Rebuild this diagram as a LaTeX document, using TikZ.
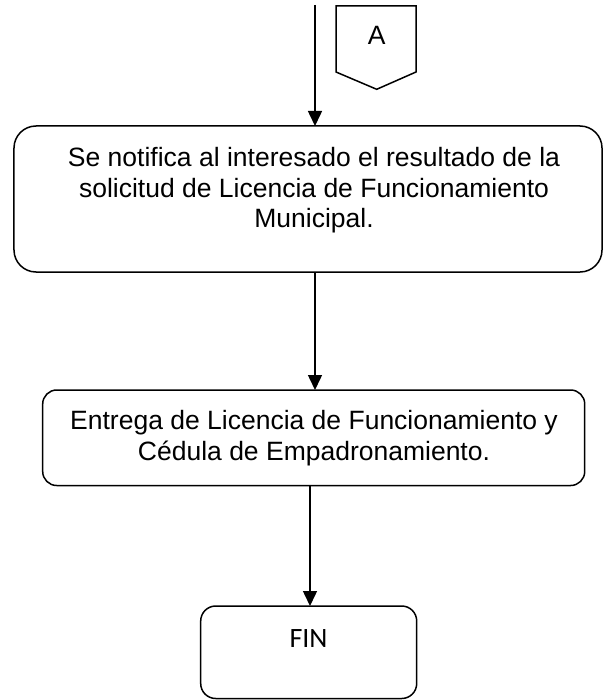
\documentclass[tikz,border=0pt]{standalone}
\usepackage{fontspec}
\setmainfont{Liberation Sans}
\newfontfamily\carlito{Carlito}
\usetikzlibrary{arrows.meta}
\begin{document}
\begin{tikzpicture}[x=1bp,y=-1bp,
  every node/.style={inner sep=0pt,outer sep=0pt},
  boxst/.style={draw,line width=1.5bp,fill=none},
  txt/.style={align=center,anchor=base},
  arr/.style={line width=1.5bp,-{Triangle[length=15bp,width=14bp]}}]
\useasboundingbox (0,0) rectangle (603,700);
% boxes
\node[boxst,rounded corners=22bp,minimum width=588bp,minimum height=146bp] (box1) at (308,199) {};
\node[boxst,rounded corners=14bp,minimum width=542bp,minimum height=95.5bp] (box2) at (313.7,437.75) {};
\node[boxst,rounded corners=15bp,minimum width=216bp,minimum height=92.5bp] (fin) at (308.7,652.25) {};
% texts (base anchor = last line)
\node[txt,font=\fontsize{26.5bp}{30.3bp}\selectfont] (t1) at (314,227.3) {Se notifica al interesado el resultado de la\\solicitud de Licencia de Funcionamiento\\Municipal.};
\node[txt,font=\fontsize{26.5bp}{31bp}\selectfont] (t2) at (314,460) {Entrega de Licencia de Funcionamiento y\\Cédula de Empadronamiento.};
\node[font=\carlito\fontsize{28bp}{30bp}\selectfont,anchor=base] (t3) at (308.5,647) {FIN};
% off-page connector A
\draw[line width=1.5bp,line join=miter] (336,6) -- (416,6) -- (416,72) -- (376.7,89.3) coordinate (ctip) -- (336,72) -- cycle;
\node[font=\fontsize{26.5bp}{30bp}\selectfont,anchor=base] (lblA) at (376.7,44.3) {A};
% connectors
\coordinate (start) at (315,5);
\coordinate (a3) at (310,0);
\draw[arr] (start) -- (box1.north -| start);
\draw[arr] (box1.south -| start) -- (box2.north -| start);
\draw[arr] (box2.south -| a3) -- (fin.north -| a3);
\end{tikzpicture}
\end{document}
